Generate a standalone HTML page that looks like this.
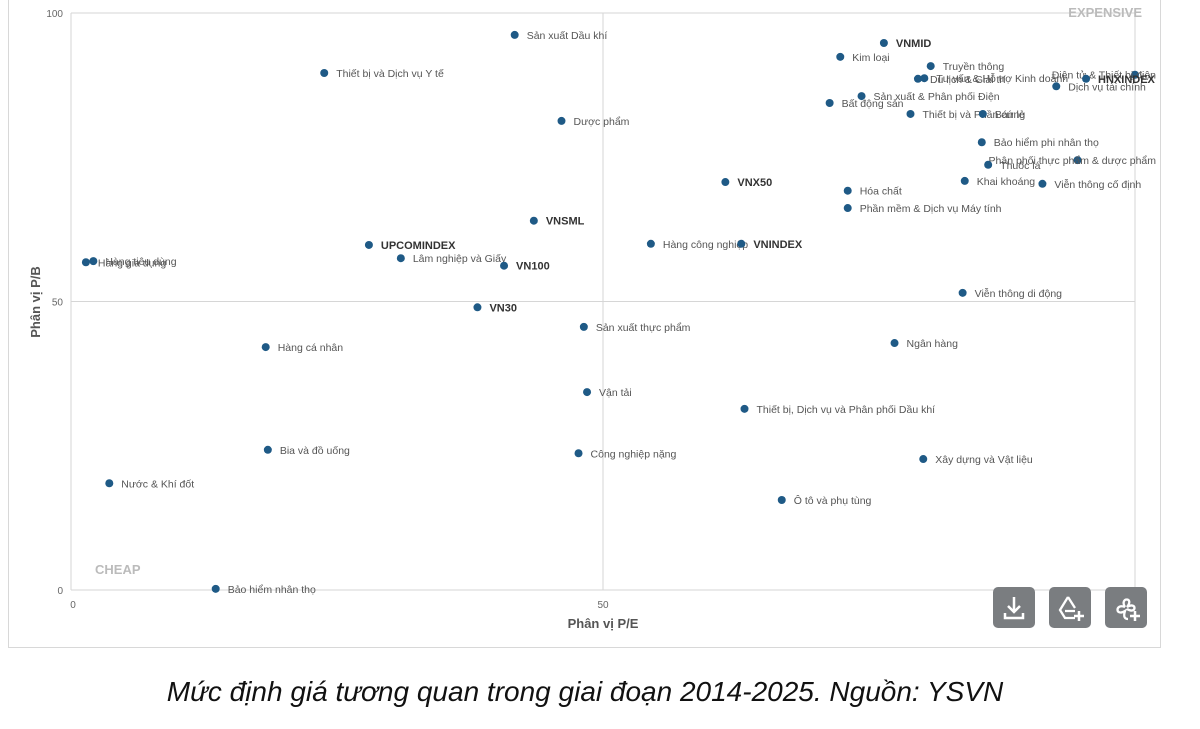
<!DOCTYPE html>
<html><head><meta charset="utf-8"><style>
body{margin:0;background:#fff;width:1200px;height:729px;overflow:hidden;font-family:"Liberation Sans",sans-serif}
#frame{position:absolute;left:8px;top:-2px;width:1151px;height:649px;border:1px solid #d8d8d8;border-top:none}
#cap{position:absolute;left:0;top:676px;width:1170px;text-align:center;font-style:italic;font-size:28px;color:#111}
.btn{position:absolute;top:587px;width:42px;height:41px;background:#7a7d80;border-radius:5px}
</style></head><body>
<div id="frame"></div>
<svg id="chart" width="1158" height="660" style="position:absolute;left:0;top:0" font-family="Liberation Sans, sans-serif"></svg>
<div class="btn" style="left:993px"><svg width="42" height="41"><path d="M21 10v15M15 19l6 6 6-6M12 26v5h18v-5" stroke="#fff" stroke-width="2.5" fill="none"/></svg></div>
<div class="btn" style="left:1049px"><svg width="42" height="41"><path d="M19 10l-8 13 5 8h10M19 10l7 11M16 24h10" stroke="#fff" stroke-width="2.3" fill="none"/><path d="M30 24v10M25 29h10" stroke="#fff" stroke-width="2.5"/></svg></div>
<div class="btn" style="left:1105px"><svg width="42" height="41"><path d="M20 20c-6-10 10-10 2 0c10-6 10 8 0 2M20 20c-10-4-10 10 0 4c-2 6 0 8 3 8" stroke="#fff" stroke-width="2.3" fill="none"/><path d="M30 24v10M25 29h10" stroke="#fff" stroke-width="2.5"/></svg></div>
<div id="cap">Mức định giá tương quan trong giai đoạn 2014-2025. Nguồn: YSVN</div>
<script>
const names=["Sản xuất Dầu khí","Thiết bị và Dịch vụ Y tế","Dược phẩm","VNMID","Kim loại","Truyền thông","Du lịch & Giải trí","Tư vấn & Hỗ trợ Kinh doanh","Điện tử & Thiết bị điện","HNXINDEX","Dịch vụ tài chính","Sản xuất & Phân phối Điện","Bất động sản","Thiết bị và Phần cứng","Bán lẻ","Bảo hiểm phi nhân thọ","Phân phối thực phẩm & dược phẩm","Thuốc lá","Khai khoáng","Viễn thông cố định","Hóa chất","Phần mềm & Dịch vụ Máy tính","VNX50","VNSML","UPCOMINDEX","Lâm nghiệp và Giấy","VN100","Hàng công nghiệp","VNINDEX","Hàng gia dụng","Hàng tiêu dùng","VN30","Viễn thông di động","Sản xuất thực phẩm","Hàng cá nhân","Ngân hàng","Vận tải","Thiết bị, Dịch vụ và Phân phối Dầu khí","Bia và đồ uống","Công nghiệp nặng","Xây dựng và Vật liệu","Nước & Khí đốt","Ô tô và phụ tùng","Bảo hiểm nhân thọ"];
const peValues=[41.7,23.8,46.1,76.4,72.3,80.8,79.6,80.2,100,95.4,92.6,74.3,71.3,78.9,85.7,85.6,94.6,86.2,84.0,91.3,73.0,73.0,61.5,43.5,28.0,31.0,40.7,54.5,63.0,1.4,2.1,38.2,83.8,48.2,18.3,77.4,48.5,63.3,18.5,47.7,80.1,3.6,66.8,13.6];
const pbValues=[96.2,89.6,81.3,94.8,92.4,90.8,88.6,88.7,89.3,88.6,87.3,85.6,84.4,82.5,82.5,77.6,74.5,73.7,70.9,70.4,69.2,66.2,70.7,64.0,59.8,57.5,56.2,60.0,60.0,56.8,57.0,49.0,51.5,45.6,42.1,42.8,34.3,31.4,24.3,23.7,22.7,18.5,15.6,0.2];
const indexNames=["VNMID","HNXINDEX","VNX50","VNSML","UPCOMINDEX","VN100","VNINDEX","VN30"];
const xTicks=[0,50,100], yTicks=[0,50,100];
const X=v=>71+v*10.64, Y=v=>590-v*5.77;
const svg=document.getElementById('chart'),NS='http://www.w3.org/2000/svg';
function mk(t,a,txt){const e=document.createElementNS(NS,t);for(const k in a)e.setAttribute(k,a[k]);if(txt!=null)e.textContent=txt;svg.appendChild(e);return e;}
xTicks.forEach(t=>{const l=mk('line',{x1:X(t),x2:X(t),y1:Y(100),y2:Y(0),stroke:'#d6d6d6'});

const s=mk('text',{x:X(t)+(t==0?2:0),y:608,'font-size':10,fill:'#666','text-anchor':'middle'},t);
});
yTicks.forEach(t=>{const l=mk('line',{x1:X(0),x2:X(100),y1:Y(t),y2:Y(t),stroke:'#d6d6d6'});

const s=mk('text',{x:63,y:Y(t)+4,'font-size':10,fill:'#666','text-anchor':'end'},t);
});
let e=mk('text',{x:603,y:628,'font-size':13,'font-weight':'bold',fill:'#555','text-anchor':'middle'},'Phân vị P/E');

e=mk('text',{x:40,y:302,'font-size':13,'font-weight':'bold',fill:'#555','text-anchor':'middle',transform:'rotate(-90 40 302)'},'Phân vị P/B');

e=mk('text',{x:1142,y:17,'font-size':13,'font-weight':'bold',fill:'#bbb','text-anchor':'end'},'EXPENSIVE');

e=mk('text',{x:95,y:574,'font-size':13,'font-weight':'bold',fill:'#bbb'},'CHEAP');

names.forEach((n,i)=>{const x=X(peValues[i]),y=Y(pbValues[i]),b=indexNames.includes(n);
const c=mk('circle',{cx:x,cy:y,r:4,fill:'#1f5a86'});

const t=mk('text',{x:x+12,y:y+4,'font-size':b?11:10.5,'font-weight':b?'bold':'normal',fill:b?'#333':'#555'},n);

const w=t.getComputedTextLength();
if(x+12+w>1156){t.setAttribute('x',Math.max(x-90,1156-w));}});
</script>
</body></html>
